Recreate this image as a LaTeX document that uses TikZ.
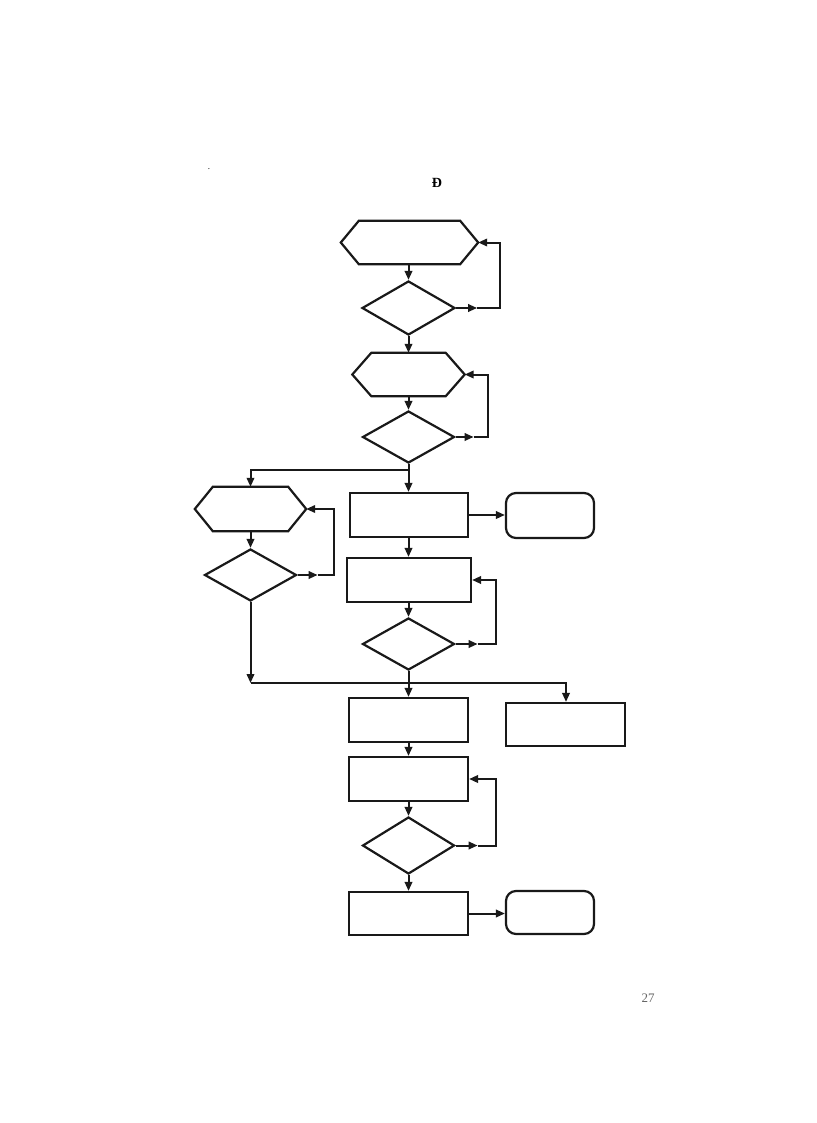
\documentclass[tikz,border=0pt]{standalone}
\usepackage{fontspec}
\setmainfont{Liberation Serif}
\usetikzlibrary{shapes.geometric,arrows.meta}
\tikzset{
  shp/.style={draw=black!90, line width=2.2pt, fill=none, inner sep=0pt},
  boxr/.style={shp, rectangle},
  rbox/.style={shp, rectangle, rounded corners=10pt},
  dia/.style={shp, diamond},
  hexanchor/.style={rectangle, inner sep=0pt},
  ln/.style={draw=black!90, line width=2pt},
  arr/.style={ln, -{Triangle[length=9pt,width=7.5pt]}},
}
\begin{document}
\begin{tikzpicture}[x=1pt,y=-1pt]
\useasboundingbox[fill=white] (0,0) rectangle (816,1123);

% texts
\node[inner sep=0pt] (dot) at (209,169) {\fontsize{9}{9}\selectfont .};
\node[inner sep=0pt, font=\fontsize{14}{14}\selectfont\bfseries] (title) at (437,183) {Đ};
\node[inner sep=0pt, text=black!60, font=\fontsize{13}{13}\selectfont] (page) at (648,998) {27};

% hexagons (anchor boxes + outline)
\node[hexanchor, minimum width=137pt, minimum height=43pt] (h1) at (409.5,242.5) {};
\draw[shp] (h1.west) -- ([xshift=18pt]h1.north west) -- ([xshift=-18pt]h1.north east) -- (h1.east)
  -- ([xshift=-18pt]h1.south east) -- ([xshift=18pt]h1.south west) -- cycle;
\node[hexanchor, minimum width=112pt, minimum height=43pt] (h2) at (408.5,374.5) {};
\draw[shp] (h2.west) -- ([xshift=19pt]h2.north west) -- ([xshift=-19pt]h2.north east) -- (h2.east)
  -- ([xshift=-19pt]h2.south east) -- ([xshift=19pt]h2.south west) -- cycle;
\node[hexanchor, minimum width=111pt, minimum height=44pt] (h3) at (250.5,509) {};
\draw[shp] (h3.west) -- ([xshift=18pt]h3.north west) -- ([xshift=-18pt]h3.north east) -- (h3.east)
  -- ([xshift=-18pt]h3.south east) -- ([xshift=18pt]h3.south west) -- cycle;

% diamonds
\node[dia, minimum width=93pt, minimum height=54pt] (d1) at (408.5,308) {};
\node[dia, minimum width=92pt, minimum height=52pt] (d2) at (408.5,437) {};
\node[dia, minimum width=92pt, minimum height=52pt] (d3) at (250.5,575) {};
\node[dia, minimum width=92pt, minimum height=52pt] (d4) at (408.5,644) {};
\node[dia, minimum width=92pt, minimum height=57pt] (d5) at (408.5,845.5) {};

% rectangles
\node[boxr, minimum width=118pt, minimum height=44pt] (ba) at (409,515) {};
\node[boxr, minimum width=124pt, minimum height=44pt] (bb) at (409,580) {};
\node[boxr, minimum width=119pt, minimum height=44pt] (bc) at (408.5,720) {};
\node[boxr, minimum width=119pt, minimum height=44pt] (bd) at (408.5,779) {};
\node[boxr, minimum width=119pt, minimum height=43pt] (be) at (408.5,913.5) {};
\node[rbox, minimum width=88pt, minimum height=45pt] (r1) at (550,515.5) {};
\node[boxr, minimum width=119pt, minimum height=43pt] (r2) at (565.5,724.5) {};
\node[rbox, minimum width=88pt, minimum height=43pt] (r3) at (550,912.5) {};

% loop columns and junctions
\coordinate (l1) at (500,0);
\coordinate (l2) at (488,0);
\coordinate (l3) at (334,0);
\coordinate (l4) at (496,0);
\coordinate (j1) at (408.5,470);
\coordinate (j2) at (408.5,683);
\coordinate (j3) at (250.5,683);
\coordinate (j4) at (566,683);

% top chain
\draw[arr] (h1.south -| d1.north) -- (d1.north);
\draw[arr] (d1.east) -- ++(21,0) coordinate (m1);
\draw[arr] (m1) -- (m1 -| l1) |- (h1.east);
\draw[arr] (d1.south) -- (d1.south |- h2.north);
\draw[arr] (h2.south) -- (h2.south |- d2.north);
\draw[arr] (d2.east) -- ++(18,0) coordinate (m2);
\draw[arr] (m2) -- (m2 -| l2) |- (h2.east);

% branch after second diamond
\draw[ln] (d2.south) -- (j1);
\draw[arr] (j1) -- (j1 |- ba.north);
\draw[arr] (j1) -| (h3.north -| j3);

% left column
\draw[arr] (h3.south -| d3.north) -- (d3.north);
\draw[arr] (d3.east) -- ++(20,0) coordinate (m3);
\draw[arr] (m3) -- (m3 -| l3) |- (h3.east);
\draw[arr] (d3.south -| j3) -- (j3);
\draw[ln] (j3) -- (j2);

% middle column
\draw[arr] (ba.east) -- (r1.west |- ba.east);
\draw[arr] (ba.south -| d4.north) -- (bb.north -| d4.north);
\draw[arr] (bb.south -| d4.north) -- (d4.north);
\draw[arr] (d4.east) -- ++(22,0) coordinate (m4);
\draw[arr] (m4) -- (m4 -| l4) |- (bb.east);
\draw[ln] (d4.south) -- (j2);
\draw[arr] (j2) -- (j2 |- bc.north);
\draw[arr] (j2) -| (r2.north -| j4);
\draw[arr] (bc.south) -- (bd.north);
\draw[arr] (bd.south) -- (bd.south |- d5.north);
\draw[arr] (d5.east) -- ++(22,0) coordinate (m5);
\draw[arr] (m5) -- (m5 -| l4) |- (bd.east);
\draw[arr] (d5.south) -- (d5.south |- be.north);
\draw[arr] (be.east) -- (r3.west |- be.east);
\end{tikzpicture}
\end{document}
